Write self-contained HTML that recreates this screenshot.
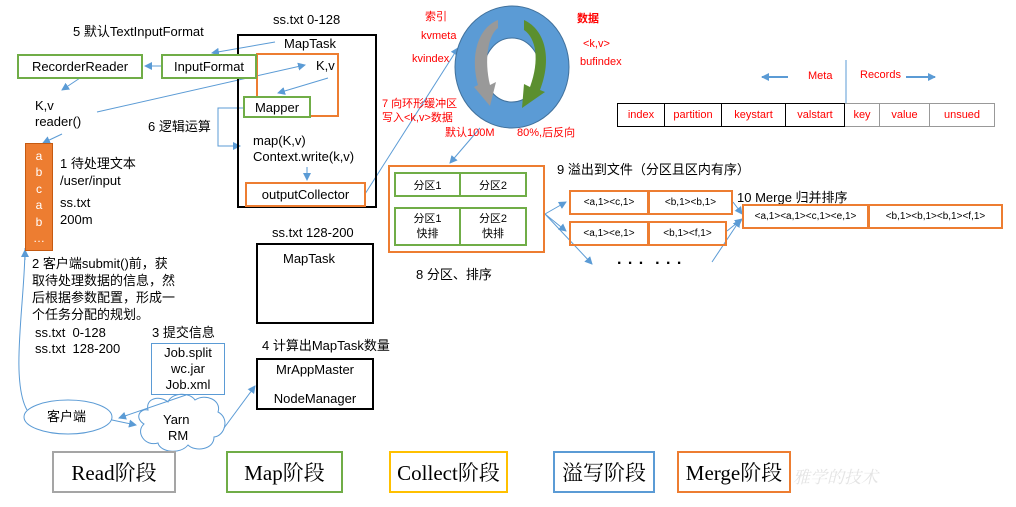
<!DOCTYPE html>
<html><head><meta charset="utf-8"><style>
body{margin:0;width:1016px;height:507px;background:#fff;position:relative;overflow:hidden;font-family:"Liberation Sans","Noto Sans CJK SC",sans-serif;color:#000}
.a{position:absolute;white-space:nowrap;line-height:1}
.b{position:absolute;box-sizing:border-box;display:flex;align-items:center;justify-content:center;white-space:nowrap;text-align:center}
.g{border:2px solid #70ad47}.o{border:2px solid #ed7d31}.k{border:2px solid #000}
.r{color:#ff0000;font-size:11px}
.s{font-size:10px}
.ph{position:absolute;box-sizing:border-box;border:2px solid;display:flex;align-items:center;justify-content:center;font-family:"Liberation Serif","Noto Serif CJK SC",serif;font-size:21px;top:451px;height:42px;white-space:nowrap}
</style></head><body>
<svg width="1016" height="507" style="position:absolute;left:0;top:0">
<defs><marker id="m" markerWidth="8" markerHeight="8" refX="7" refY="4" orient="auto" markerUnits="userSpaceOnUse"><path d="M0,0 L8,4 L0,8 z" fill="#5b9bd5"/></marker></defs>
<g stroke="#5b9bd5" stroke-width="1" fill="none">
<line x1="275" y1="42" x2="212" y2="53" marker-end="url(#m)"/>
<line x1="161" y1="66" x2="145" y2="66" marker-end="url(#m)"/>
<line x1="80" y1="78" x2="62" y2="90" marker-end="url(#m)"/>
<line x1="97" y1="112" x2="305" y2="65" marker-end="url(#m)"/>
<line x1="328" y1="78" x2="278" y2="93" marker-end="url(#m)"/>
<polyline points="243,108 218,108 218,146 240,146" marker-end="url(#m)"/>
<line x1="307" y1="167" x2="307" y2="180" marker-end="url(#m)"/>
<line x1="62" y1="134" x2="43" y2="143" marker-end="url(#m)"/>
<path d="M25,248 C25,300 10,380 27,410"/>
<line x1="25" y1="260" x2="25" y2="250" marker-end="url(#m)"/>
<line x1="365" y1="194" x2="458" y2="48" marker-end="url(#m)"/>
<line x1="480" y1="128" x2="450" y2="163" marker-end="url(#m)"/>
<line x1="545" y1="214" x2="566" y2="202" marker-end="url(#m)"/>
<line x1="545" y1="214" x2="566" y2="231" marker-end="url(#m)"/>
<line x1="545" y1="214" x2="592" y2="264" marker-end="url(#m)"/>
<line x1="733" y1="202" x2="742" y2="214" marker-end="url(#m)"/>
<line x1="727" y1="231" x2="742" y2="219" marker-end="url(#m)"/>
<line x1="712" y1="262" x2="740" y2="220" marker-end="url(#m)"/>
<line x1="186" y1="395" x2="119" y2="418" marker-end="url(#m)"/>
<line x1="112" y1="420" x2="136" y2="425" marker-end="url(#m)"/>
<line x1="224" y1="428" x2="255" y2="386" marker-end="url(#m)"/>
<line x1="788" y1="77" x2="762" y2="77" stroke-width="2" marker-end="url(#m)"/>
<line x1="906" y1="77" x2="935" y2="77" stroke-width="2" marker-end="url(#m)"/>
<line x1="846" y1="60" x2="846" y2="103"/>
<ellipse cx="68" cy="417" rx="44" ry="17"/>
<path d="M148,410 C145,398 160,395 168,402 C172,392 190,392 195,400 C205,393 222,400 218,412 C230,418 225,436 214,437 C214,450 195,452 188,445 C180,455 160,452 158,443 C145,447 135,432 144,424 C134,418 140,408 148,410 z"/>
</g>
<ellipse cx="512" cy="67" rx="57" ry="61" fill="#5b9bd5" stroke="#41719c"/>
<ellipse cx="512" cy="70" rx="28" ry="32" fill="#fff" stroke="#41719c"/>
<path d="M498,20 C478,28 470,55 478,85 L474,87 L490,106 L496,82 L490,85 C484,60 488,35 498,28 z" fill="#999"/>
<path d="M524,20 C546,30 552,60 540,90 L545,92 L522,108 L524,84 L530,87 C540,60 536,38 524,30 z" fill="#5b8f2f"/>
</svg>
<div class="a" style="left:73px;top:25px;font-size:13px">5 默认TextInputFormat</div>
<div class="a" style="left:273px;top:13px;font-size:13px">ss.txt 0-128</div>
<div class="b k" style="left:237px;top:34px;width:140px;height:174px"></div>
<div class="a" style="left:284px;top:37px;font-size:13px">MapTask</div>
<div class="b o" style="left:256px;top:53px;width:83px;height:64px"></div>
<div class="b g" style="left:161px;top:54px;width:96px;height:25px;font-size:13px;background:#fff">InputFormat</div>
<div class="b g" style="left:17px;top:54px;width:126px;height:25px;font-size:13px">RecorderReader</div>
<div class="a" style="left:316px;top:59px;font-size:13px">K,v</div>
<div class="b g" style="left:243px;top:96px;width:68px;height:22px;font-size:13px;background:#fff">Mapper</div>
<div class="a" style="left:148px;top:120px;font-size:13px">6 逻辑运算</div>
<div class="a" style="left:253px;top:133px;font-size:13px;line-height:16px">map(K,v)<br>Context.write(k,v)</div>
<div class="b o" style="left:245px;top:182px;width:121px;height:25px;font-size:13px">outputCollector</div>
<div class="a" style="left:35px;top:98px;font-size:13px;line-height:16px">K,v<br>reader()</div>
<div class="b" style="left:25px;top:143px;width:28px;height:108px;background:#ed7d31;border:1px solid #c55a11;color:#fff;font-size:12px;line-height:16.5px">a<br>b<br>c<br>a<br>b<br>…</div>
<div class="a" style="left:60px;top:155px;font-size:13px;line-height:17px">1 待处理文本<br>/user/input</div>
<div class="a" style="left:60px;top:194px;font-size:13px;line-height:17px">ss.txt<br>200m</div>
<div class="a" style="left:32px;top:255px;font-size:13px;line-height:17px">2 客户端submit()前，获<br>取待处理数据的信息，然<br>后根据参数配置，形成一<br>个任务分配的规划。</div>
<div class="a" style="left:35px;top:325px;font-size:13px;line-height:16px">ss.txt&nbsp; 0-128<br>ss.txt&nbsp; 128-200</div>
<div class="a" style="left:152px;top:326px;font-size:13px">3 提交信息</div>
<div class="b" style="left:151px;top:343px;width:74px;height:52px;border:1.5px solid #5b9bd5;font-size:13px;line-height:16px">Job.split<br>wc.jar<br>Job.xml</div>
<div class="a" style="left:272px;top:226px;font-size:13px">ss.txt 128-200</div>
<div class="b k" style="left:256px;top:243px;width:118px;height:81px"></div>
<div class="a" style="left:283px;top:252px;font-size:13px">MapTask</div>
<div class="a" style="left:262px;top:339px;font-size:13px">4 计算出MapTask数量</div>
<div class="b k" style="left:256px;top:358px;width:118px;height:52px;font-size:13px;flex-direction:column;justify-content:space-between;padding:2px 0">MrAppMaster<span>NodeManager</span></div>
<div class="a" style="left:47px;top:410px;font-size:13px">客户端</div>
<div class="a" style="left:163px;top:412px;font-size:13px;text-align:center;line-height:16px">Yarn<br>&nbsp;RM</div>
<div class="a r" style="left:425px;top:12px">索引</div>
<div class="a r" style="left:421px;top:31px">kvmeta</div>
<div class="a r" style="left:412px;top:54px">kvindex</div>
<div class="a r" style="left:577px;top:14px;font-weight:bold">数据</div>
<div class="a r" style="left:583px;top:39px">&lt;k,v&gt;</div>
<div class="a r" style="left:580px;top:57px">bufindex</div>
<div class="a r" style="left:382px;top:97px;line-height:14px">7 向环形缓冲区<br>写入&lt;k,v&gt;数据</div>
<div class="a r" style="left:445px;top:128px">默认100M</div>
<div class="a r" style="left:517px;top:128px">80%,后反向</div>
<div class="a r" style="left:808px;top:71px">Meta</div>
<div class="a r" style="left:860px;top:70px">Records</div>
<div style="position:absolute;left:617px;top:103px;height:24px;display:flex;font-size:11px;color:#f00">
<div class="b" style="position:static;width:48px;border:1.5px solid #000">index</div>
<div class="b" style="position:static;width:57px;border:1.5px solid #000;border-left:0">partition</div>
<div class="b" style="position:static;width:64px;border:1.5px solid #000;border-left:0">keystart</div>
<div class="b" style="position:static;width:59px;border:1.5px solid #000;border-left:0">valstart</div>
<div class="b" style="position:static;width:35px;border:1.5px solid #999;border-left:0">key</div>
<div class="b" style="position:static;width:50px;border:1.5px solid #999;border-left:0">value</div>
<div class="b" style="position:static;width:65px;border:1.5px solid #999;border-left:0">unsued</div>
</div>
<div class="b o" style="left:388px;top:165px;width:157px;height:88px"></div>
<div class="b g" style="left:394px;top:172px;width:67px;height:25px;font-size:11px">分区1</div>
<div class="b g" style="left:459px;top:172px;width:68px;height:25px;font-size:11px">分区2</div>
<div class="b g" style="left:394px;top:207px;width:67px;height:39px;font-size:11px;line-height:15px">分区1<br>快排</div>
<div class="b g" style="left:459px;top:207px;width:68px;height:39px;font-size:11px;line-height:15px">分区2<br>快排</div>
<div class="a" style="left:416px;top:268px;font-size:13px">8 分区、排序</div>
<div class="a" style="left:557px;top:163px;font-size:13px">9 溢出到文件（分区且区内有序）</div>
<div class="b o s" style="left:569px;top:190px;width:80px;height:25px">&lt;a,1&gt;&lt;c,1&gt;</div>
<div class="b o s" style="left:648px;top:190px;width:85px;height:25px">&lt;b,1&gt;&lt;b,1&gt;</div>
<div class="b o s" style="left:569px;top:221px;width:80px;height:25px">&lt;a,1&gt;&lt;e,1&gt;</div>
<div class="b o s" style="left:648px;top:221px;width:79px;height:25px">&lt;b,1&gt;&lt;f,1&gt;</div>
<div class="a" style="left:617px;top:252px;font-size:16px;font-weight:bold;letter-spacing:1px">. . .&nbsp;&nbsp;. . .</div>
<div class="a" style="left:737px;top:191px;font-size:13px">10 Merge 归并排序</div>
<div class="b o s" style="left:742px;top:204px;width:127px;height:25px">&lt;a,1&gt;&lt;a,1&gt;&lt;c,1&gt;&lt;e,1&gt;</div>
<div class="b o s" style="left:868px;top:204px;width:135px;height:25px">&lt;b,1&gt;&lt;b,1&gt;&lt;b,1&gt;&lt;f,1&gt;</div>
<div class="ph" style="left:52px;width:124px;border-color:#a5a5a5">Read阶段</div>
<div class="ph" style="left:226px;width:117px;border-color:#70ad47">Map阶段</div>
<div class="ph" style="left:389px;width:119px;border-color:#ffc000">Collect阶段</div>
<div class="ph" style="left:553px;width:102px;border-color:#5b9bd5">溢写阶段</div>
<div class="ph" style="left:677px;width:114px;border-color:#ed7d31">Merge阶段</div>
<div class="a" style="left:793px;top:467px;font-size:17px;color:#e4e4e4;font-family:'Noto Serif CJK SC',serif;font-style:italic">雅学的技术</div>
</body></html>
